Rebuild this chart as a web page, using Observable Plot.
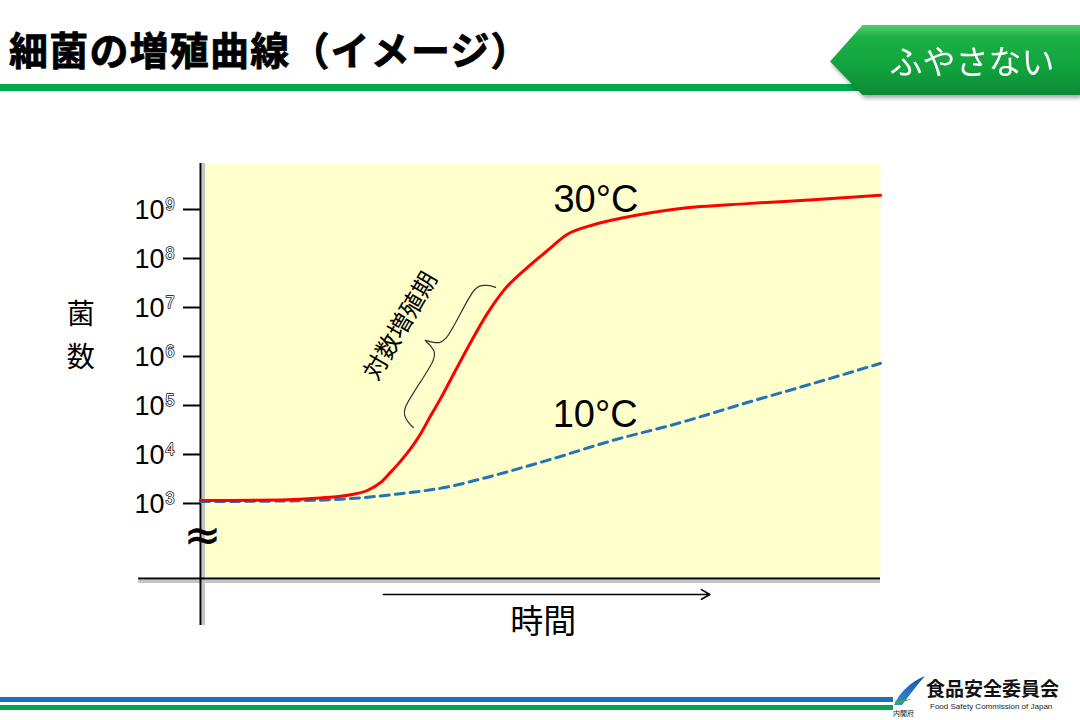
<!DOCTYPE html>
<html>
<head>
<meta charset="utf-8">
<script src="https://cdn.jsdelivr.net/npm/d3@7"></script>
<script src="https://cdn.jsdelivr.net/npm/@observablehq/plot@0.6"></script>
<style>
  body { margin: 0; background: #fff; }
  #page { position: relative; width: 1080px; height: 720px; overflow: hidden; background: #fff; font-family: "Noto Sans CJK JP", sans-serif; }
  #title { position: absolute; left: 9px; top: 25px; font-size: 39px; font-weight: 700; line-height: 46px; color: #000; white-space: nowrap; letter-spacing: 1.2px; -webkit-text-stroke: 0.8px #000; }
  #rule { position: absolute; left: 0; top: 84px; width: 880px; height: 7px; background: #00a84f; }
  #badgeWrap { position: absolute; left: 830px; top: 25px; width: 250px; height: 70px; filter: drop-shadow(2px 3px 2px rgba(0,0,0,0.35)); }
  #badge { width: 100%; height: 100%; clip-path: polygon(0 52%, 13% 0, 100% 0, 100% 100%, 13% 100%);
           background: linear-gradient(#52cf6d 0%, #1bb046 18%, #12a33f 60%, #0a8a33 100%);
           color: #fff; font-size: 33px; line-height: 70px; text-align: center; padding-left: 34px; box-sizing: border-box; }
  #chart { position: absolute; left: 0; top: 110px; }
  #fb { position: absolute; left: 0; top: 697px; width: 893px; height: 5px; background: #1b6fbe; }
  #fg { position: absolute; left: 0; top: 705px; width: 893px; height: 5px; background: #00a650; }
  #org { position: absolute; left: 926px; top: 676px; font-size: 19px; font-weight: 700; line-height: 24px; color: #111; white-space: nowrap; }
  #orgEn { position: absolute; left: 930px; top: 702px; font-family: "Liberation Sans", Arial, sans-serif; font-size: 8px; line-height: 10px; color: #222; white-space: nowrap; }
  #cab { position: absolute; left: 893px; top: 709px; font-size: 7px; line-height: 9px; color: #222; white-space: nowrap; }
  #logo { position: absolute; left: 888px; top: 672px; }
</style>
</head>
<body>
<div id="page">
  <div id="title">細菌の増殖曲線（イメージ）</div>
  <div id="rule"></div>
  <div id="badgeWrap"><div id="badge">ふやさない</div></div>
  <div id="chart"></div>
  <div id="fb"></div>
  <div id="fg"></div>
  <svg id="logo" width="40" height="40" viewBox="0 0 40 40">
    <defs>
      <linearGradient id="lg" x1="0" y1="1" x2="1" y2="0">
        <stop offset="0" stop-color="#3a8fd8"/>
        <stop offset="1" stop-color="#0d4fa8"/>
      </linearGradient>
    </defs>
    <path d="M6 33 C 12 20, 22 10, 37 4 C 30 12, 22 22, 14 33 Z" fill="url(#lg)"/>
    <path d="M7 29 L 24 27 L 9 32 Z" fill="#2fae4e"/>
  </svg>
  <div id="org">食品安全委員会</div>
  <div id="orgEn">Food Safety Commission of Japan</div>
  <div id="cab">内閣府</div>
</div>
<script>
// ---- data (time in arbitrary units 0–100, counts as log10) ----
const exponents = [3, 4, 5, 6, 7, 8, 9];
const tickBase = "10";

const time30 = [0, 11.8, 17.6, 22.1, 24.6, 26.5, 27.9, 29.4, 30.9, 32.4, 33.8, 35.3, 36.8, 39.3, 42.2, 44.6, 48.1, 51.0, 53.9, 57.8, 61.8, 70.6, 80.4, 90.1, 100];
const log30  = [3.06, 3.07, 3.11, 3.18, 3.27, 3.43, 3.63, 3.86, 4.12, 4.43, 4.78, 5.14, 5.53, 6.18, 6.88, 7.35, 7.82, 8.16, 8.49, 8.69, 8.82, 9.02, 9.12, 9.20, 9.29];

const time10 = [0, 11.8, 22.1, 29.4, 36.8, 41.2, 51.0, 60.7, 70.6, 80.4, 90.1, 100];
const log10v = [3.04, 3.05, 3.10, 3.20, 3.35, 3.50, 3.88, 4.29, 4.65, 5.06, 5.45, 5.86];

const seriesNames = ["30°C", "10°C"];
const phaseLabel = "対数増殖期";
const yLabelChars = ["菌", "数"];
const xLabel = "時間";
const breakSymbol = "≈";

// log-phase bracket end points (time, log10 count)
const phaseStart = {t: 31.3, v: 4.55};
const phaseEnd   = {t: 43.4, v: 7.41};

// ---- layout ----
const W = 1080, H = 550, mL = 200, mR = 200, mT = 53, mB = 82;
const xDomain = [0, 100];
const yDomain = [1.469, 9.939];
const xs = d3.scaleLinear().domain(xDomain).range([mL, W - mR]);
const ys = d3.scaleLinear().domain(yDomain).range([H - mB, mT]);

const red = time30.map((t, i) => ({t, v: log30[i]}));
const blue = time10.map((t, i) => ({t, v: log10v[i]}));

// build a curly brace in pixel space, then map back to data units
const A = [xs(phaseStart.t), ys(phaseStart.v)];
const B = [xs(phaseEnd.t), ys(phaseEnd.v)];
const L = Math.hypot(B[0] - A[0], B[1] - A[1]);
const u = [(B[0] - A[0]) / L, (B[1] - A[1]) / L];
const n = [u[1], -u[0]]; // points up-left (away from curve)
const prof = [[0,0],[0.015,8],[0.04,14],[0.08,17],[0.42,17],[0.465,20],[0.49,28],[0.5,34],[0.51,28],[0.535,20],[0.58,17],[0.92,17],[0.96,14],[0.985,8],[1,0]];
const brace = prof.map(([s, d]) => {
  const px = A[0] + u[0] * s * L + n[0] * d;
  const py = A[1] + u[1] * s * L + n[1] * d;
  return {t: xs.invert(px), v: ys.invert(py)};
});
const phaseAngle = Math.atan2(B[1] - A[1], B[0] - A[0]) * 180 / Math.PI;
const mid = [(A[0] + B[0]) / 2 + n[0] * 62, (A[1] + B[1]) / 2 + n[1] * 62];
const phasePos = {t: xs.invert(mid[0]), v: ys.invert(mid[1])};

const latin = "Liberation Sans, Arial, sans-serif";
const cjk = "Noto Sans CJK JP, sans-serif";

const yAxisLow = 0.51;   // y-axis line extends below the break
const xAxisLeft = -9.1;  // x-axis line extends left of the y axis
const yLabelPos = [6.84, 5.96];

const chart = Plot.plot({
  width: W, height: H,
  marginLeft: mL, marginRight: mR, marginTop: mT, marginBottom: mB,
  x: {domain: xDomain, axis: null},
  y: {domain: yDomain},
  style: {background: "transparent", overflow: "visible"},
  marks: [
    Plot.frame({fill: "#ffffcc", stroke: null}),
    // axis shadows
    Plot.ruleX([0], {y1: yAxisLow, y2: yDomain[1], stroke: "#c4c4c4", strokeWidth: 3, dx: 3}),
    Plot.ruleY([yDomain[0]], {x1: xAxisLeft, x2: xDomain[1], stroke: "#c4c4c4", strokeWidth: 3, dy: 3}),
    // axes
    Plot.axisY({ticks: exponents, tickSize: 17, tickFormat: () => "", label: null, stroke: "#000", strokeWidth: 2}),
    Plot.ruleX([0], {y1: yAxisLow, y2: yDomain[1], stroke: "#000", strokeWidth: 2}),
    Plot.ruleY([yDomain[0]], {x1: xAxisLeft, x2: xDomain[1], stroke: "#000", strokeWidth: 2}),
    Plot.text(exponents, {y: d => d, frameAnchor: "left", text: () => tickBase, textAnchor: "end", dx: -36, dy: 1, fontSize: 27, fontFamily: latin, fill: "#000"}),
    Plot.text(exponents, {y: d => d, frameAnchor: "left", text: d => String(d), textAnchor: "start", dx: -35, dy: -5, fontSize: 16, fontFamily: latin, fill: "#fff", stroke: "#000", strokeWidth: 1.4}),
    // axis break
    Plot.text([breakSymbol], {x: 0.3, y: 2.33, text: d => d, fontSize: 44, fontFamily: "DejaVu Sans, sans-serif", fill: "#000", stroke: "#000", strokeWidth: 0.6}),
    // curves
    Plot.line(blue, {x: "t", y: "v", stroke: "#2373b9", strokeWidth: 3, strokeDasharray: "9,6", curve: "monotone-x"}),
    Plot.line(red, {x: "t", y: "v", stroke: "#ff0000", strokeWidth: 3, curve: "monotone-x"}),
    // series labels
    Plot.text([seriesNames[0]], {x: 51.9, y: 9.2, text: d => d, textAnchor: "start", fontSize: 38, fontFamily: latin, fill: "#000"}),
    Plot.text([seriesNames[1]], {x: 51.8, y: 4.8, text: d => d, textAnchor: "start", fontSize: 38, fontFamily: latin, fill: "#000"}),
    // log phase bracket and label
    Plot.line(brace, {x: "t", y: "v", stroke: "#333", strokeWidth: 1.2, curve: "catmull-rom"}),
    Plot.text([phaseLabel], {x: phasePos.t, y: phasePos.v, text: d => d, rotate: phaseAngle, fontSize: 24, fontFamily: cjk, fill: "#000"}),
    // axis titles
    Plot.text(yLabelChars, {x: -17.6, y: (d, i) => yLabelPos[i], text: d => d, fontSize: 28, fontFamily: cjk, fill: "#000"}),
    Plot.arrow([0], {x1: 26.9, x2: 74.9, y1: 1.143, y2: 1.143, stroke: "#000", strokeWidth: 1.6, headLength: 9}),
    Plot.text([xLabel], {x: 50.4, y: 0.57, text: d => d, fontSize: 33, fontFamily: cjk, fill: "#000"})
  ]
});
document.getElementById("chart").appendChild(chart);
</script>
</body>
</html>
